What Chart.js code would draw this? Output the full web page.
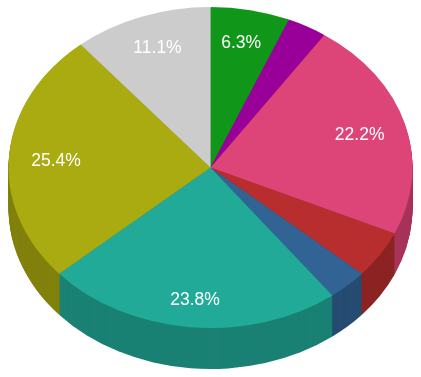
<!DOCTYPE html>
<html>
<head>
<meta charset="utf-8">
<script src="https://cdn.jsdelivr.net/npm/chart.js@4"></script>
<style>
  body { margin: 0; background: #fff; }
</style>
</head>
<body>
<canvas id="pie" width="421" height="377"></canvas>
<script>
const labels = ['A', 'B', 'C', 'D', 'E', 'F', 'G', 'H'];
const values = [4, 2, 14, 3, 2, 15, 16, 7];
const colors = ['#109618', '#990099', '#dd4477', '#b82e2e', '#316395', '#22aa99', '#aaaa11', '#cccccc'];

const xStretch = 202 / 160.5;
const depth = 41;

function darker(hex, f) {
  const n = parseInt(hex.slice(1), 16);
  const r = Math.round(((n >> 16) & 255) * f);
  const g = Math.round(((n >> 8) & 255) * f);
  const b = Math.round((n & 255) * f);
  return 'rgb(' + r + ',' + g + ',' + b + ')';
}

function stretch(ctx, cx) {
  ctx.translate(cx, 0);
  ctx.scale(xStretch, 1);
  ctx.translate(-cx, 0);
}

const pie3d = {
  id: 'pie3d',
  beforeDatasetsDraw(chart) {
    const ctx = chart.ctx;
    const arcs = chart.getDatasetMeta(0).data;
    ctx.save();
    stretch(ctx, arcs[0].x);
    // side walls: darker copies stacked downward
    for (let d = depth; d >= 1; d--) {
      arcs.forEach((a, i) => {
        ctx.beginPath();
        ctx.moveTo(a.x, a.y + d);
        ctx.arc(a.x, a.y + d, a.outerRadius, a.startAngle, a.endAngle);
        ctx.closePath();
        ctx.fillStyle = darker(colors[i], 0.76);
        ctx.fill();
      });
    }
  },
  afterDatasetsDraw(chart) {
    const ctx = chart.ctx;
    ctx.restore();
    const arcs = chart.getDatasetMeta(0).data;
    const total = values.reduce((s, v) => s + v, 0);
    ctx.save();
    ctx.fillStyle = '#ffffff';
    ctx.font = '17.5px "Liberation Sans", Arial, sans-serif';
    ctx.textAlign = 'center';
    ctx.textBaseline = 'middle';
    arcs.forEach((a, i) => {
      const pct = values[i] / total * 100;
      if (pct < 5) return;
      const mid = (a.startAngle + a.endAngle) / 2;
      const px = a.x + Math.cos(mid) * a.outerRadius * 0.767 * xStretch;
      const py = a.y + 3 + Math.sin(mid) * a.outerRadius * 0.81;
      ctx.fillText(pct.toFixed(1) + '%', px, py);
    });
    ctx.restore();
  }
};

new Chart(document.getElementById('pie'), {
  type: 'pie',
  data: {
    labels: labels,
    datasets: [{
      data: values,
      backgroundColor: colors,
      borderWidth: 0,
      clip: false
    }]
  },
  options: {
    responsive: false,
    animation: false,
    events: [],
    layout: { padding: { top: 7, bottom: 49, left: 0, right: 0 } },
    plugins: {
      legend: { display: false },
      tooltip: { enabled: false }
    }
  },
  plugins: [pie3d]
});
</script>
</body>
</html>
